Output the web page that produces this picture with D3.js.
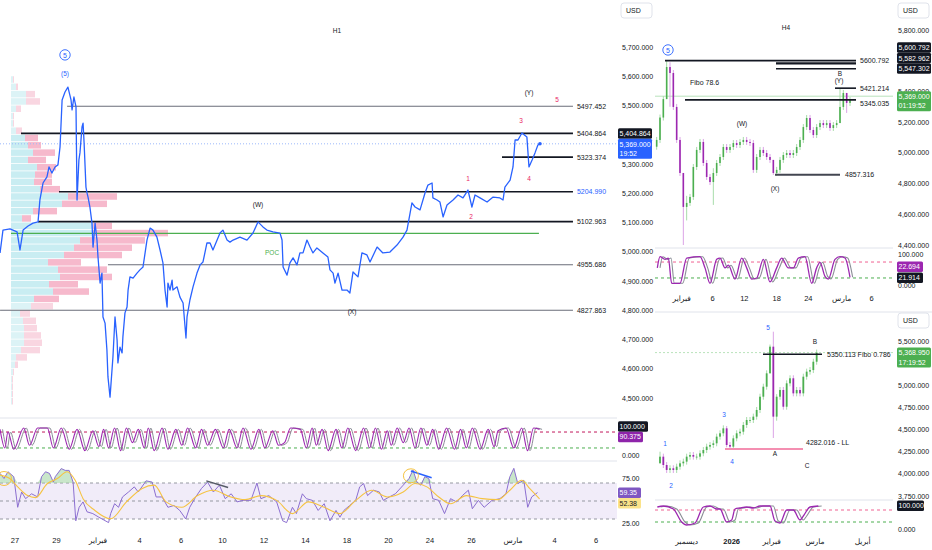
<!DOCTYPE html>
<html>
<head>
<meta charset="utf-8">
<script src="https://cdn.jsdelivr.net/npm/d3@7"></script>
<style>
  body { margin: 0; background: #ffffff; }
  svg { display: block; font-family: "Liberation Sans", Arial, "DejaVu Sans", sans-serif; }
</style>
</head>
<body>
<svg width="932" height="550"></svg>
<script>
// ---------------- H1 (main) data : [session day, price] ----------------
var h1Line = [[-0.72,4996],[-0.58,5074],[-0.24,5078],[0.10,5068],[0.24,5006],[0.39,5074],[0.63,5088],[0.87,5098],[1.11,5102],[1.20,5177],[1.35,5235],[1.54,5256],[1.64,5290],[1.78,5269],[1.93,5290],[2.07,5297],[2.17,5358],[2.27,5519],[2.41,5546],[2.55,5563],[2.70,5519],[2.75,5485],[2.84,5529],[2.94,5495],[2.99,5177],[3.08,5314],[3.13,5338],[3.23,5427],[3.28,5440],[3.33,5372],[3.42,5221],[3.47,5201],[3.52,5187],[3.61,5153],[3.71,5098],[3.76,5016],[3.86,5098],[3.95,5040],[4.00,4982],[4.10,4893],[4.19,4927],[4.24,4777],[4.34,4756],[4.43,4664],[4.48,4572],[4.58,4503],[4.72,4640],[4.82,4777],[4.92,4698],[4.96,4620],[5.06,4674],[5.16,4654],[5.20,4709],[5.30,4791],[5.40,4811],[5.45,4869],[5.54,4914],[5.69,4910],[5.88,4927],[6.02,4938],[6.17,4948],[6.36,5040],[6.51,5081],[6.65,5074],[6.84,5050],[6.99,5006],[7.13,4962],[7.23,4869],[7.33,4811],[7.37,4893],[7.47,4869],[7.57,4903],[7.61,4869],[7.81,4880],[7.95,4845],[8.10,4825],[8.24,4705],[8.29,4777],[8.43,4835],[8.58,4880],[8.77,4927],[8.92,4955],[9.06,4965],[9.25,5030],[9.40,5030],[9.54,5006],[9.88,5064],[10.02,5074],[10.22,5040],[10.36,5033],[10.51,5040],[10.84,5050],[11.18,5040],[11.47,5064],[11.71,5102],[11.95,5085],[12.14,5074],[12.43,5068],[12.77,5064],[12.87,5040],[12.92,4948],[13.11,4920],[13.25,4962],[13.40,4979],[13.59,4955],[13.73,4996],[13.88,4996],[14.07,5040],[14.22,5016],[14.36,4996],[14.55,5013],[14.84,4996],[15.08,4982],[15.18,4938],[15.33,4927],[15.42,4893],[15.57,4927],[15.76,4869],[16.00,4869],[16.14,4859],[16.29,4931],[16.53,4914],[16.72,4996],[16.96,4989],[17.11,4965],[17.45,5016],[17.73,4996],[18.07,4999],[18.41,5023],[18.70,5050],[18.89,5074],[19.04,5132],[19.13,5167],[19.28,5153],[19.52,5143],[19.76,5201],[19.90,5228],[20.10,5235],[20.14,5184],[20.34,5177],[20.48,5170],[20.63,5119],[20.82,5160],[21.11,5177],[21.35,5194],[21.59,5184],[21.83,5211],[22.02,5153],[22.17,5194],[22.41,5184],[22.75,5170],[23.04,5187],[23.37,5184],[23.52,5177],[23.61,5221],[23.86,5245],[24.00,5290],[24.10,5382],[24.24,5382],[24.43,5406],[24.67,5392],[24.77,5290],[24.92,5314],[25.06,5338],[25.20,5365],[25.30,5369]];

var h1TickLabels = ["27","29","فبراير","4","6","10","12","14","18","20","24","26","مارس","4","6"];
var h1PriceTicks = [4500,4600,4700,4800,4900,5000,5100,5200,5300,5500,5600,5700];

var h1LevelPrices = [5497.452, 5404.864, 5323.374, 5204.990, 5102.963, 4955.686, 4800];
var h1LevelLabels = ["5497.452","5404.864","5323.374","5204.990","5102.963","4955.686","4827.863"];
var h1LevelStart  = [2.51, 0.29, 23.47, 2.12, 1.11, 4.48, -0.72];
var h1LevelHeavy  = [false, true, true, true, true, false, false];
var pocPrice = 5062.5;

// volume profile rows (25-point bins from 5600 down)
var vpTop = 5600, vpStep = 25;
var vpBuy  = [2,5,15,15,5,2,2,5,14,17,22,17,26,24,23,29,57,51,22,11,82,82,69,63,53,37,47,49,38,42,23,20,9,12,13,13,13,10,5,4,2,1,1,1,1];
var vpSell = [1,2,9,14,5,1,1,6,13,13,22,18,19,17,18,20,49,45,24,9,19,75,65,58,58,33,49,52,29,36,25,22,10,13,13,17,18,19,11,3,1,1,1,1,1];
var vaHigh = 5400, vaLow = 4825;

// wave labels [day, price, text, colour]
var h1Waves = [[24.77,5546,"(Y)","#131722"],[26.12,5522,"5","#e91e63"],[24.39,5450,"3","#e91e63"],[24.77,5252,"4","#e91e63"],[21.83,5252,"1","#e91e63"],[21.98,5119,"2","#e91e63"],[11.71,5163,"(W)","#131722"],[16.24,4797,"(X)","#131722"],[2.41,5608,"(5)","#2962ff"]];

// stochastic (H1)
var h1Stoch = [[-0.72,90],[-0.49,20],[-0.34,80],[-0.06,15],[0.42,95],[0.70,30],[1.09,95],[1.56,95],[1.85,20],[2.23,95],[2.61,15],[2.99,90],[3.37,10],[3.75,85],[4.04,25],[4.27,90],[4.51,20],[4.80,95],[5.09,10],[5.37,95],[5.66,40],[5.94,90],[6.23,20],[6.42,95],[6.71,10],[7.09,95],[7.37,15],[7.75,90],[8.04,30],[8.32,95],[8.71,20],[8.99,90],[9.28,30],[9.66,90],[10.04,20],[10.32,90],[10.70,20],[10.99,95],[11.37,15],[11.75,90],[12.04,20],[12.42,85],[12.70,30],[12.99,40],[13.28,95],[13.75,90],[14.04,20],[14.32,95],[14.52,30],[14.80,90],[15.09,10],[15.47,90],[15.75,20],[16.04,95],[16.42,10],[16.80,95],[17.09,20],[17.37,95],[17.66,15],[17.94,85],[18.13,30],[18.42,95],[18.71,40],[18.99,95],[19.28,20],[19.56,95],[19.85,30],[20.13,90],[20.42,15],[20.80,95],[21.18,15],[21.47,90],[21.75,20],[22.04,95],[22.42,15],[22.80,90],[23.09,25],[23.28,85],[23.66,95],[24.04,20],[24.42,95],[24.70,10],[24.99,95],[25.28,90]];

// RSI and its moving average (H1)
var h1Rsi = [[-0.72,80.7],[-0.53,75],[-0.34,82.5],[-0.06,77],[0.13,43],[0.32,60],[0.51,52.6],[0.80,58],[1.09,54.5],[1.28,77],[1.47,82.5],[1.66,80.7],[1.85,71],[1.94,77],[2.23,86],[2.42,84],[2.61,84],[2.80,71],[2.93,28],[3.09,43],[3.28,49],[3.47,38],[3.75,36],[4.04,32],[4.51,26],[4.61,36],[4.80,47],[4.99,43],[5.18,54.5],[5.47,60],[5.75,65.7],[5.94,60],[6.32,72.4],[6.61,71],[6.80,54.5],[7.09,54.5],[7.37,43],[7.66,45],[7.94,39.5],[8.23,30],[8.42,43],[8.71,54.5],[8.99,64],[9.28,71],[9.56,60],[9.85,67.6],[10.13,52.6],[10.42,58],[10.70,49],[10.99,50.7],[11.37,50.7],[11.66,70],[11.85,52.6],[12.23,56],[12.61,49],[12.90,28],[13.09,26],[13.37,43],[13.56,36],[13.85,58],[14.04,52.6],[14.33,50.7],[14.61,39.5],[14.90,47],[15.18,28],[15.47,39.5],[15.66,32],[15.85,39.5],[16.13,45],[16.42,50.7],[16.61,65.7],[16.80,69.4],[16.99,56],[17.28,62],[17.56,60],[17.75,50.7],[18.04,54.5],[18.33,58],[18.71,67.6],[18.99,75],[19.18,84.4],[19.37,71],[19.56,67.6],[19.75,77],[19.94,75],[20.13,52.6],[20.42,50.7],[20.70,36],[20.99,52.6],[21.28,49],[21.56,56],[21.85,62],[22.04,41.4],[22.33,50.7],[22.61,43],[22.99,50.7],[23.37,52.6],[23.66,58],[23.85,77],[24.04,86.3],[24.23,69.4],[24.52,73],[24.71,43],[24.90,54.5],[25.18,59.35]];
var h1RsiMa = [[-0.72,78.8],[-0.25,75],[0.13,65.7],[0.61,56],[0.99,53.7],[1.56,69.4],[2.04,75],[2.51,82.5],[2.90,73],[3.28,52.6],[3.85,39.5],[4.61,30.2],[5.37,49],[6.13,64],[6.71,67.6],[7.28,49],[8.04,43],[8.80,56],[9.56,62],[10.32,55],[11.09,51.5],[11.85,56],[12.61,50.7],[13.37,36],[14.13,49],[14.90,43],[15.66,36],[16.42,50.7],[17.18,62],[17.94,54.5],[18.71,60],[19.28,69.4],[19.85,65.7],[20.42,54.5],[20.99,47],[21.75,56],[22.52,52.6],[23.28,51.5],[23.85,62],[24.42,73],[24.80,64],[25.28,52.38]];
var rsiDivergences = [[[9.22,72.4],[10.27,65],"#555a66"],[[19.08,83.3],[20.08,75.8],"#2962ff"]];
var rsiCircles = [[-0.53,75],[19.08,78]];

// ---------------- H4 data : bar index ----------------
var h4FirstOpen = 5040;
var h4Close = [5084,5230,5350,5559,5520,5299,5084,4869,4648,4674,4713,4908,5019,5071,4934,4843,4810,4869,4934,4973,5038,5019,5038,5064,5051,5071,5084,5071,5064,4889,4973,5019,4999,4973,4954,4869,4889,4954,4986,4999,4986,4999,5038,5084,5168,5227,5149,5116,5168,5194,5181,5194,5162,5181,5194,5299,5390,5325,5344];
var h4StartBar = 2;
var h4Wicks = [[5,5470,5600],[6,5300,5590],[10,4400,4700],[11,4560,4720],[19,4661,4900],[37,4857,4900],[57,5280,5421],[59,5260,5350]];
var h4TickBars = [9.5,18.8,28.3,38,47.5,57.5,66.5];
var h4TickLabels = ["فبراير","6","12","18","24","مارس","6"];
var h4PriceTicks = [4400,4600,4800,5000,5200,5400,5800];
var h4Levels = [[5600.792,4.5,61.8,"#131722",1.6],[5582.962,37.8,61.8,"#131722",2.2],[5547.302,37.8,61.8,"#131722",1.6],[5421.214,55.5,61.8,"#131722",1.6],[5345.035,10.5,61.8,"#131722",1.6],[4857.316,37.5,57,"#434651",2]];
var h4LevelLabels = [[5600.792,63,"5600.792"],[5421.214,63,"5421.214"],[5320,63,"5345.035"],[4857.316,58.5,"4857.316"],[5460,12,"Fibo 78.6"]];
var h4Waves = [[27.6,5188,"(W)"],[37.5,4765,"(X)"],[57,5520,"B"],[56.7,5468,"(Y)"]];
var h4Stoch = [[2.2,58],[3,100],[4.5,90],[5.5,95],[6.5,0],[9,0],[11,95],[15,100],[16.5,58],[18,0],[20,90],[21,95],[22.5,58],[23.5,68],[25.5,16],[27.5,95],[29,58],[30.5,16],[32,20],[34,90],[36,5],[38,58],[39.5,95],[41.5,58],[43,58],[44.5,95],[46.5,100],[48.5,0],[50,58],[51,79],[52.5,26],[53.5,16],[55.5,90],[57,100],[58.5,95],[60,22.7]];

// ---------------- Daily data : bar index ----------------
var dFirstOpen = 4119;
var dClose = [4194,4100,4044,4063,4044,4081,4119,4138,4194,4213,4194,4194,4232,4269,4307,4326,4345,4420,4458,4514,4326,4307,4401,4458,4476,4552,4608,4608,4646,4721,4871,4984,5135,5436,4646,4871,4947,4758,5022,5079,4909,4947,4909,5097,5154,5172,5266,5368.95];
var dStartBar = 12;
var dWicks = [[12,4119,4250],[32,4300,4540],[45,5135,5460],[46,4405,5605],[47,4600,4900]];
var dTickBars = [20,33.5,45.5,58.5,72.8];
var dTickLabels = ["ديسمبر","2026","فبراير","مارس","أبريل"];
var dPriceTicks = [3750,4000,4250,4500,4750,5000,5500];
var dWaves = [[13.5,4348,"1","#2962ff"],[15.3,3863,"2","#2962ff"],[31.2,4665,"3","#2962ff"],[33.6,4134,"4","#2962ff"],[44.4,5658,"5","#2962ff"],[46.5,4235,"A","#131722"],[58.5,5500,"B","#131722"],[56.1,4089,"C","#131722"]];
var dStoch = [[11.2,95],[13,100],[16,85],[18.5,20],[20,5],[22.5,15],[25,95],[27,100],[29,85],[30,85],[32,20],[33.5,30],[34.5,85],[36,90],[38,95],[40,90],[42,100],[45,100],[46.5,25],[48,15],[50,80],[52,80],[54,30],[55,50],[57,95],[59.5,100]];

// ---------------- drawing ----------------
var svg = d3.select("svg");
var ink = "#131722";
var sep = "#e0e3eb";
var upCol = "#4caf50", downCol = "#9c27b0";
var fmt3 = d3.format(",.3f");
var axisSize = 7;

function txt(x, y, s, o) {
    o = o || {};
    return svg.append("text").attr("x", x).attr("y", y)
        .attr("font-size", o.size || 7.5)
        .attr("fill", o.fill || ink)
        .attr("text-anchor", o.anchor || "start")
        .attr("dominant-baseline", "central")
        .attr("font-weight", o.weight || "normal")
        .text(s);
}

function box(x, top, w, lines, bg, fg) {
    var h = lines.length * 9.5 + 1;
    svg.append("rect").attr("x", x).attr("y", top).attr("width", w).attr("height", h)
        .attr("rx", 1.5).attr("fill", bg);
    lines.forEach(function (s, i) {
        txt(x + 1.5, top + 5.2 + i * 9.5, s, {fill: fg, size: axisSize});
    });
    return h;
}

function usdBox(x, y) {
    svg.append("rect").attr("x", x).attr("y", y).attr("width", 31).attr("height", 15)
        .attr("rx", 3).attr("fill", "#fff").attr("stroke", "#e0e3eb");
    txt(x + 5, y + 7.5, "USD", {size: 7});
}

function circledFive(x, y) {
    svg.append("circle").attr("cx", x).attr("cy", y).attr("r", 5.2)
        .attr("fill", "none").attr("stroke", "#2962ff").attr("stroke-width", 0.9);
    txt(x, y + 0.3, "5", {size: 7, fill: "#2962ff", anchor: "middle"});
}

function clip(id, x, y, w, h) {
    svg.append("clipPath").attr("id", id).append("rect")
        .attr("x", x).attr("y", y).attr("width", w).attr("height", h);
    return svg.append("g").attr("clip-path", "url(#" + id + ")");
}

function hline(g, x1, x2, y, col, w, dash) {
    g.append("line").attr("x1", x1).attr("x2", x2).attr("y1", y).attr("y2", y)
        .attr("stroke", col).attr("stroke-width", w || 1)
        .attr("stroke-dasharray", dash || null);
}

// pane separators
[[0, 617, 418], [0, 617, 461], [655, 893, 248], [655, 932, 312], [655, 893, 500]].forEach(function (s) {
    hline(svg, s[0], s[1], s[2], sep, 1);
});

// ====== H1 price pane ======
var xH1 = d3.scaleLinear().domain([0, 28]).range([15, 596]);
var yH1 = d3.scaleLinear().domain([4500, 5700]).range([398, 47]);
var vpW = d3.scaleLinear().domain([0, 100]).range([0, 100]);
var vpLeft = 11;
var g1 = clip("c1", 0, 20, 617, 397);

// volume profile
vpBuy.forEach(function (b, k) {
    var hi = vpTop - k * vpStep, lo = hi - vpStep;
    var inVa = hi <= vaHigh && lo >= vaLow;
    var y0 = yH1(hi), hh = yH1(lo) - yH1(hi) - 0.8;
    g1.append("rect").attr("x", vpLeft).attr("y", y0).attr("width", vpW(b)).attr("height", hh)
        .attr("fill", inVa ? "#c9edf2" : "#dcf3f6");
    g1.append("rect").attr("x", vpLeft + vpW(b)).attr("y", y0).attr("width", vpW(vpSell[k])).attr("height", hh)
        .attr("fill", inVa ? "#f6b9cc" : "#f9d6e1");
});

// current price dotted line
hline(g1, 0, 617, yH1(5369), "#9bb8fb", 1, "1,2");

// levels
h1LevelPrices.forEach(function (p, i) {
    hline(g1, xH1(h1LevelStart[i]), xH1(26.89), yH1(p), h1LevelHeavy[i] ? ink : "#6a6d78", h1LevelHeavy[i] ? 1.6 : 1.1);
    txt(xH1(27.08), yH1(p), h1LevelLabels[i], {fill: i === 3 ? "#2962ff" : ink, size: 7});
});
// POC
hline(g1, vpLeft, xH1(25.25), yH1(pocPrice), "#4caf50", 1.3);
txt(xH1(12.39), yH1(4999), "POC", {fill: "#4caf50", size: 6.5, anchor: "middle"});

// price line
g1.append("path").datum(h1Line)
    .attr("d", d3.line().x(function (d) { return xH1(d[0]); }).y(function (d) { return yH1(d[1]); }))
    .attr("fill", "none").attr("stroke", "#2962ff").attr("stroke-width", 1.3)
    .attr("stroke-linejoin", "round");
var last = h1Line[h1Line.length - 1];
g1.append("circle").attr("cx", xH1(last[0])).attr("cy", yH1(last[1])).attr("r", 1.8).attr("fill", "#2962ff");

// wave labels
h1Waves.forEach(function (w) {
    txt(xH1(w[0]), yH1(w[1]), w[2], {fill: w[3], size: 6.5, anchor: "middle"});
});
circledFive(xH1(2.41), yH1(5673));
txt(337, 30, "H1", {size: 6.5, anchor: "middle"});

// H1 price axis
h1PriceTicks.forEach(function (p) { txt(622, yH1(p), fmt3(p), {size: axisSize}); });
box(618, yH1(5404.864) - 5, 34, ["5,404.864"], ink, "#fff");
box(618, yH1(5369) - 5, 34, ["5,369.000", "19:52"], "#2962ff", "#fff");
usdBox(621, 3);

// ====== H1 stochastic ======
var yS1 = d3.scaleLinear().domain([0, 100]).range([453.3, 426.7]);
var gS1 = clip("c2", 0, 419, 617, 42);
hline(gS1, 0, 617, yS1(80), "#c2185b", 1, "3,3");
hline(gS1, 0, 617, yS1(20), "#4caf50", 1, "3,3");
var stochLagH1 = 0.12;
gS1.append("path").datum(h1Stoch)
    .attr("d", d3.line().curve(d3.curveMonotoneX).x(function (d) { return xH1(d[0] + stochLagH1); }).y(function (d) { return yS1(d[1]); }))
    .attr("fill", "none").attr("stroke", "#8a8d96").attr("stroke-width", 1);
gS1.append("path").datum(h1Stoch)
    .attr("d", d3.line().curve(d3.curveMonotoneX).x(function (d) { return xH1(d[0]); }).y(function (d) { return yS1(d[1]); }))
    .attr("fill", "none").attr("stroke", "#9c27b0").attr("stroke-width", 1.1);
txt(622, yS1(0) + 2, "0.000", {size: axisSize});
var hb = box(618, yS1(100) - 5.5, 30, ["100.000"], ink, "#fff");
box(618, yS1(100) - 5.5 + hb, 25, ["90.375"], "#8e24aa", "#fff");

// ====== H1 RSI ======
var yR = d3.scaleLinear().domain([30, 70]).range([519, 483]);
var gR = clip("c3", 0, 462, 617, 70);
gR.append("rect").attr("x", 0).attr("y", yR(70)).attr("width", 617).attr("height", yR(30) - yR(70))
    .attr("fill", "#f1ecf9");
[70, 50, 30].forEach(function (v) { hline(gR, 0, 617, yR(v), "#9598a1", 1, "3,3"); });
gR.append("path").datum(h1Rsi)
    .attr("d", d3.area().x(function (d) { return xH1(d[0]); }).y0(yR(70))
        .y1(function (d) { return yR(Math.max(d[1], 70)); }))
    .attr("fill", "#a5d6a7").attr("opacity", 0.6);
gR.append("path").datum(h1Rsi)
    .attr("d", d3.line().x(function (d) { return xH1(d[0]); }).y(function (d) { return yR(d[1]); }))
    .attr("fill", "none").attr("stroke", "#8c6fd0").attr("stroke-width", 1);
gR.append("path").datum(h1RsiMa)
    .attr("d", d3.line().curve(d3.curveMonotoneX).x(function (d) { return xH1(d[0]); }).y(function (d) { return yR(d[1]); }))
    .attr("fill", "none").attr("stroke", "#f5c342").attr("stroke-width", 1.1);
rsiDivergences.forEach(function (d) {
    gR.append("line").attr("x1", xH1(d[0][0])).attr("y1", yR(d[0][1]))
        .attr("x2", xH1(d[1][0])).attr("y2", yR(d[1][1]))
        .attr("stroke", d[2]).attr("stroke-width", 1.4);
});
rsiCircles.forEach(function (c) {
    gR.append("ellipse").attr("cx", xH1(c[0])).attr("cy", yR(c[1])).attr("rx", 7.5).attr("ry", 7)
        .attr("fill", "none").attr("stroke", "#f5c342").attr("stroke-width", 1);
});
txt(622, yR(75), "75.00", {size: axisSize});
txt(622, yR(25), "25.00", {size: axisSize});
var rb = box(618, yR(59.35) - 5, 23, ["59.35"], "#7e57c2", "#fff");
box(618, yR(59.35) - 5 + rb, 23, ["52.38"], "#fbe38a", ink);

// H1 date axis
h1TickLabels.forEach(function (s, i) { txt(xH1(i * 2), 540, s, {anchor: "middle"}); });

// ====== candles helper ======
function candles(g, closes, firstOpen, startBar, wicks, xs, ys, w) {
    var wickMap = {};
    wicks.forEach(function (wk) { wickMap[wk[0]] = wk; });
    closes.forEach(function (c, i) {
        var o = i === 0 ? firstOpen : closes[i - 1];
        var bar = startBar + i;
        var up = c >= o;
        var top = ys(Math.max(o, c)), bot = ys(Math.min(o, c));
        var wk = wickMap[bar];
        var wt = wk ? Math.min(ys(wk[2]), top) : top - 3;
        var wb = wk ? Math.max(ys(wk[1]), bot) : bot + 3;
        g.append("line").attr("x1", xs(bar)).attr("x2", xs(bar)).attr("y1", wt).attr("y2", wb)
            .attr("stroke", up ? "#a8dcaa" : "#dba3e6").attr("stroke-width", 1);
        g.append("rect").attr("x", xs(bar) - w / 2).attr("y", top).attr("width", w)
            .attr("height", Math.max(bot - top, 0.8)).attr("fill", up ? upCol : downCol);
    });
}

function stochPair(g, data, xs, ys, lag) {
    var cur = d3.curveMonotoneX;
    g.append("path").datum(data)
        .attr("d", d3.line().curve(cur).x(function (d) { return xs(d[0] + lag); }).y(function (d) { return ys(d[1]); }))
        .attr("fill", "none").attr("stroke", "#8a8d96").attr("stroke-width", 1.1);
    g.append("path").datum(data)
        .attr("d", d3.line().curve(cur).x(function (d) { return xs(d[0]); }).y(function (d) { return ys(d[1]); }))
        .attr("fill", "none").attr("stroke", "#9c27b0").attr("stroke-width", 1.3);
}

// ====== H4 pane ======
var xH4 = d3.scaleLinear().domain([0, 60]).range([650, 850]);
var yH4 = d3.scaleLinear().domain([4400, 5800]).range([245, 30]);
var g4 = clip("c4", 655, 20, 238, 227);
hline(g4, 655, 893, yH4(5369), "#b9e3bb", 1);
candles(g4, h4Close, h4FirstOpen, h4StartBar, h4Wicks, xH4, yH4, 1.6);
h4Levels.forEach(function (l) {
    hline(g4, xH4(l[1]), xH4(l[2]), yH4(l[0]), l[3], l[4]);
});
h4LevelLabels.forEach(function (l) { txt(xH4(l[1]), yH4(l[0]), l[2], {size: 7}); });
h4Waves.forEach(function (w) { txt(xH4(w[0]), yH4(w[1]), w[2], {size: 6.5, anchor: "middle"}); });
circledFive(xH4(5.4), yH4(5670));
txt(786, 27, "H4", {size: 6.5, anchor: "middle"});

h4PriceTicks.forEach(function (p) { txt(898, yH4(p), fmt3(p), {size: axisSize}); });
var b1 = yH4(5547.302) - 5.5;
box(897, b1 - 21, 34, ["5,600.792"], ink, "#fff");
box(897, b1 - 10.5, 34, ["5,582.962"], ink, "#fff");
box(897, b1, 34, ["5,547.302"], ink, "#fff");
box(897, yH4(5369) - 5, 34, ["5,369.000", "01:19:52"], "#4caf50", "#fff");
usdBox(898, 3);

// H4 stochastic
var yS4 = d3.scaleLinear().domain([0, 100]).range([283.3, 256.7]);
var gS4 = clip("c5", 655, 249, 238, 40);
hline(gS4, 655, 893, yS4(80), "#f06292", 1, "3,3");
hline(gS4, 655, 893, yS4(20), "#4caf50", 1, "3,3");
stochPair(gS4, h4Stoch, xH4, yS4, 0.8);
txt(898, yS4(100) - 2, "100.000", {size: axisSize});
txt(898, yS4(0) + 2, "0.000", {size: axisSize});
box(897, yS4(21.914) - 16, 26, ["22.694"], "#9c27b0", "#fff");
box(897, yS4(21.914) - 5, 26, ["21.914"], ink, "#fff");
h4TickLabels.forEach(function (s, i) { txt(xH4(h4TickBars[i]), 298, s, {anchor: "middle"}); });

// ====== Daily pane ======
var xD = d3.scaleLinear().domain([0, 60]).range([620, 820]);
var yD = d3.scaleLinear().domain([3750, 5500]).range([496, 341]);
var gD = clip("c6", 655, 313, 238, 186);
hline(gD, 655, 893, yD(5368.95), "#b9e3bb", 1, "2,2");
candles(gD, dClose, dFirstOpen, dStartBar, dWicks, xD, yD, 1.8);
hline(gD, xD(42.9), xD(60.6), yD(5350.113), ink, 1.6);
txt(xD(62.1), yD(5350.113), "5350.113 Fibo 0.786", {size: 7});
hline(gD, xD(31.5), xD(54.9), yD(4282.016), "#f48fb1", 2);
txt(xD(55.8), yD(4358), "4282.016 - LL", {size: 7});
dWaves.forEach(function (w) { txt(xD(w[0]), yD(w[1]), w[2], {size: 6.5, fill: w[3], anchor: "middle"}); });

dPriceTicks.forEach(function (p) { txt(898, yD(p), fmt3(p), {size: axisSize}); });
box(897, yD(5368.95) - 5, 34, ["5,368.950", "17:19:52"], "#4caf50", "#fff");
usdBox(898, 313);

// Daily stochastic
var ySD = d3.scaleLinear().domain([0, 100]).range([526, 506]);
var gSD = clip("c7", 655, 501, 238, 30);
hline(gSD, 655, 893, ySD(80), "#f06292", 1, "3,3");
hline(gSD, 655, 893, ySD(20), "#4caf50", 1, "3,3");
stochPair(gSD, dStoch, xD, ySD, 1);
box(897, ySD(100) - 5.5, 27, ["100.000"], ink, "#fff");
txt(898, ySD(0) + 3, "0.000", {size: axisSize});
dTickLabels.forEach(function (s, i) {
    txt(xD(dTickBars[i]), 541, s, {anchor: "middle", weight: s === "2026" ? "bold" : "normal"});
});
</script>
</body>
</html>
